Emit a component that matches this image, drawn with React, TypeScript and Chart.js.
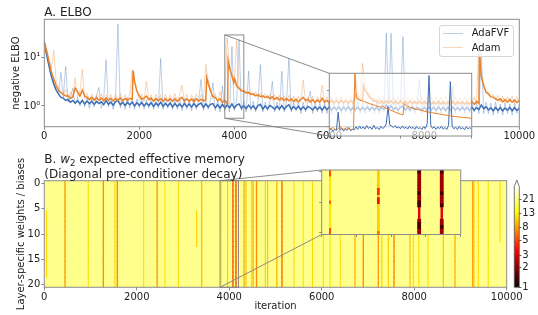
import React, { useEffect, useRef } from 'react';
import { Chart, registerables } from 'chart.js';

Chart.register(...registerables);

const FONT = "'DejaVu Sans', sans-serif";
const TEXT = '#222222';
const SPINE = '#8c8c8c';
const BLUE = 'rgb(59,110,180)';
const BLUE_FAINT = 'rgba(59,110,180,0.33)';
const ORANGE = 'rgb(234,130,42)';
const ORANGE_FAINT = 'rgba(234,130,42,0.33)';

// ---------- Panel A data ----------
const seriesNames = ['AdaFVF', 'Adam'];
const rawIter = Array.from({ length: 201 }, (_, i) => i * 50);
const blueRaw = [
  22, 12, 7, 4.5, 3.0, 2.2, 1.9, 4.9, 1.5, 6.5,
  1.2, 1.6, 2.3, 1.1, 1.5, 1.0, 1.4, 0.95, 1.5, 0.9,
  1.4, 0.95, 1.6, 2.4, 0.9, 1.4, 8.9, 0.95, 1.45, 0.85,
  1.5, 48, 0.9, 1.4, 0.85, 1.5, 0.9, 1.45, 0.85, 1.4,
  0.9, 1.5, 0.85, 1.35, 0.9, 1.5, 0.85, 1.4, 0.9, 9.4,
  0.85, 1.4, 0.9, 1.45, 0.85, 1.35, 0.85, 1.5, 0.8, 1.4,
  0.85, 1.35, 0.8, 1.45, 0.85, 1.3, 3.5, 0.8, 1.4, 0.85,
  1.3, 3.0, 0.8, 1.3, 0.75, 2.6, 0.8, 1.3, 0.75, 16.5,
  0.8, 1.25, 23, 0.8, 1.25, 0.75, 5.2, 0.8, 1.25, 0.75,
  1.3, 7.1, 0.75, 1.2, 0.8, 1.25, 3.2, 0.75, 1.2, 0.8,
  5.2, 0.75, 1.25, 9.6, 0.75, 1.2, 0.8, 1.25, 0.7, 1.2,
  0.75, 1.25, 2.0, 0.7, 1.2, 0.75, 1.15, 0.7, 1.2, 0.7,
  1.25, 0.7, 1.15, 0.75, 1.2, 0.7, 1.15, 0.75, 1.2, 0.7,
  1.15, 0.75, 1.2, 0.7, 1.15, 0.7, 1.2, 0.75, 1.15, 0.7,
  1.2, 0.7, 1.15, 0.75, 31, 0.7, 31, 0.75, 1.15, 0.7,
  1.2, 26.5, 0.7, 1.15, 0.75, 1.2, 0.7, 1.15, 3.5, 0.7,
  1.2, 0.7, 3.6, 0.75, 1.15, 0.7, 1.2, 0.7, 1.15, 0.75,
  1.2, 0.7, 2.6, 0.7, 1.15, 0.75, 1.2, 0.7, 1.15, 0.7,
  1.2, 0.75, 1.15, 0.7, 14, 0.7, 1.2, 0.7, 1.15, 0.65,
  1.2, 0.7, 1.1, 0.65, 1.15, 0.7, 1.1, 0.65, 1.15, 0.7,
  1.1,
];
const orangeRaw = [
  22, 16, 9, 6, 14, 3.2, 2.4, 2.0, 1.7, 2.2,
  1.5, 1.9, 1.45, 3.8, 1.5, 2.0, 5.6, 1.4, 1.8, 1.3,
  1.75, 1.25, 1.7, 1.3, 1.8, 1.25, 1.7, 1.3, 1.75, 1.2,
  1.7, 1.3, 1.8, 1.25, 1.7, 1.3, 1.8, 5.6, 3.0, 2.0,
  1.3, 1.75, 1.25, 3.2, 1.3, 1.7, 1.2, 1.75, 1.3, 1.7,
  1.2, 1.75, 1.25, 1.7, 1.2, 1.8, 1.25, 1.7, 2.7, 1.2,
  1.75, 1.25, 1.7, 1.2, 1.75, 1.25, 1.7, 1.3, 7.1, 3.5,
  2.2, 1.4, 1.8, 1.2, 2.0, 1.2, 1.5, 25, 7, 4,
  3.0, 22, 2.4, 2.3, 1.9, 2.1, 1.75, 2.0, 1.6, 1.95,
  1.5, 1.85, 1.45, 1.8, 1.4, 1.75, 1.3, 1.7, 1.3, 1.65,
  1.25, 1.6, 1.2, 1.65, 1.2, 1.6, 1.15, 1.6, 1.2, 3.4,
  1.15, 1.55, 1.2, 1.6, 1.15, 1.55, 1.2, 2.7, 1.15, 1.55,
  1.1, 1.55, 1.15, 1.5, 1.1, 1.55, 1.15, 1.5, 1.1, 1.55,
  1.15, 4.3, 1.8, 1.2, 7.5, 3.0, 2.0, 1.6, 1.2, 1.5,
  1.1, 1.55, 1.15, 1.5, 1.1, 1.55, 1.15, 1.5, 1.1, 1.55,
  1.15, 1.5, 1.1, 1.55, 1.15, 1.5, 1.1, 1.55, 1.15, 1.5,
  1.1, 1.55, 1.15, 1.5, 1.1, 1.55, 1.15, 1.5, 1.1, 1.55,
  1.15, 1.5, 1.1, 1.55, 1.15, 1.5, 1.1, 1.55, 1.15, 1.5,
  1.1, 1.55, 1.15, 24, 5, 2.8, 2.0, 1.9, 1.5, 1.7,
  1.3, 1.65, 1.2, 1.6, 1.15, 1.55, 1.2, 1.6, 1.15, 1.55,
  1.2,
];
const blueBoldVal = [
  20, 11, 6.5, 4.0, 2.8, 2.1, 1.75, 1.5, 1.45, 1.3,
  1.36, 1.2, 1.3, 1.14, 1.28, 1.12, 1.3, 1.1, 1.26, 1.12,
  1.25, 1.08, 1.24, 1.12, 1.22, 1.06, 1.3, 1.08, 1.2, 1.04,
  1.22, 1.3, 1.06, 1.2, 1.02, 1.18, 1.06, 1.2, 1.0, 1.17,
  1.03, 1.18, 1.0, 1.15, 1.02, 1.16, 0.98, 1.14, 1.02, 1.2,
  0.98, 1.13, 1.0, 1.15, 0.96, 1.12, 0.98, 1.1, 0.95, 1.12,
  0.97, 1.1, 0.95, 1.12, 0.96, 1.08, 1.15, 0.94, 1.1, 0.95,
  1.08, 1.12, 0.92, 1.06, 0.9, 1.08, 0.9, 1.05, 0.92, 1.1,
  0.9, 1.04, 1.1, 0.9, 1.02, 0.88, 1.04, 0.9, 1.0, 0.86,
  1.02, 1.08, 0.86, 1.0, 0.88, 1.02, 0.95, 0.86, 0.99, 0.87,
  1.02, 0.86, 0.98, 1.06, 0.85, 0.97, 0.86, 0.99, 0.84, 0.96,
  0.85, 0.98, 0.92, 0.83, 0.96, 0.85, 0.95, 0.83, 0.97, 0.84,
  0.96, 0.83, 0.94, 0.85, 0.95, 0.82, 0.94, 0.84, 0.96, 0.82,
  0.93, 0.84, 0.95, 0.82, 0.93, 0.84, 0.95, 0.82, 0.94, 0.83,
  0.95, 0.82, 0.93, 0.85, 1.05, 0.86, 1.02, 0.84, 0.93, 0.82,
  0.94, 1.0, 0.83, 0.93, 0.82, 0.95, 0.83, 0.93, 0.88, 0.82,
  0.94, 0.83, 0.96, 0.84, 0.93, 0.82, 0.95, 0.83, 0.93, 0.81,
  0.94, 0.82, 0.95, 0.83, 0.92, 0.82, 0.94, 0.82, 0.93, 0.81,
  0.94, 0.82, 0.92, 0.84, 1.05, 0.88, 0.96, 0.83, 0.92, 0.8,
  0.93, 0.81, 0.92, 0.8, 0.91, 0.82, 0.93, 0.8, 0.92, 0.81,
  0.9,
];
const orangeBoldIter = [
  0, 50, 100, 150, 200, 250, 300, 350, 400, 450,
  500, 550, 600, 650, 700, 750, 800, 850, 900, 950,
  1000, 1050, 1100, 1150, 1200, 1250, 1300, 1350, 1400, 1450,
  1500, 1550, 1600, 1650, 1700, 1750, 1800, 1850, 1870, 1900, 1950,
  2000, 2050, 2100, 2150, 2200, 2250, 2300, 2350, 2400, 2450,
  2500, 2550, 2600, 2650, 2700, 2750, 2800, 2850, 2900, 2950,
  3000, 3050, 3100, 3150, 3200, 3250, 3300, 3350, 3400, 3420, 3450,
  3500, 3550, 3600, 3650, 3700, 3750, 3800, 3850, 3860, 3870, 3900, 3950, 3990,
  4010, 4050, 4100, 4150, 4200, 4250, 4300, 4350, 4400, 4450,
  4500, 4550, 4600, 4650, 4700, 4750, 4800, 4850, 4900, 4950,
  5000, 5050, 5100, 5150, 5200, 5250, 5300, 5350, 5400, 5450,
  5500, 5550, 5600, 5650, 5700, 5750, 5800, 5850, 5900, 5950,
  6000, 6050, 6100, 6150, 6200, 6250, 6300, 6350, 6400, 6450,
  6500, 6560, 6600, 6650, 6700, 6720, 6750, 6800, 6850, 6900, 6950,
  7000, 7050, 7100, 7150, 7200, 7250, 7300, 7350, 7400, 7450,
  7500, 7550, 7600, 7650, 7700, 7750, 7800, 7850, 7900, 7950,
  8000, 8050, 8100, 8150, 8200, 8250, 8300, 8350, 8400, 8450,
  8500, 8550, 8600, 8650, 8700, 8750, 8800, 8850, 8900, 8950,
  9000, 9050, 9100, 9150, 9160, 9200, 9250, 9300, 9350, 9400, 9450,
  9500, 9550, 9600, 9650, 9700, 9750, 9800, 9850, 9900, 9950,
  10000,
];
const orangeBoldVal = [
  20, 13, 8, 5, 3.6, 2.6, 2.1, 1.85, 1.75, 1.6,
  1.62, 1.42, 1.55, 2.3, 1.95, 1.6, 2.1, 1.6, 1.5, 1.35,
  1.5, 1.32, 1.48, 1.3, 1.45, 1.28, 1.46, 1.3, 1.44, 1.27,
  1.42, 1.3, 1.46, 1.27, 1.42, 1.3, 1.44, 1.38, 5.3, 3.2, 2.0,
  1.62, 1.38, 1.45, 1.6, 1.36, 1.44, 1.26, 1.42, 1.28, 1.4,
  1.25, 1.42, 1.27, 1.4, 1.25, 1.42, 1.24, 1.38, 1.5, 1.26,
  1.4, 1.24, 1.38, 1.23, 1.4, 1.25, 1.38, 1.26, 1.36, 3.8, 2.9,
  2.0, 1.55, 1.5, 1.28, 1.4, 1.2, 1.3, 1.12, 1.2, 8.5, 6.0, 4.2, 3.0,
  3.6, 2.6, 2.3, 2.05, 2.0, 1.85, 1.9, 1.72, 1.78, 1.62,
  1.7, 1.55, 1.62, 1.48, 1.58, 1.42, 1.54, 1.38, 1.5, 1.33,
  1.46, 1.3, 1.42, 1.28, 1.4, 1.24, 1.38, 1.22, 1.36, 1.5,
  1.3, 1.36, 1.2, 1.34, 1.18, 1.32, 1.2, 1.45, 1.2, 1.3,
  1.16, 1.3, 1.15, 1.29, 1.14, 1.3, 1.15, 1.28, 1.13, 1.28,
  1.15, 1.8, 1.5, 1.3, 1.35, 2.6, 2.1, 1.8, 1.5, 1.4, 1.25,
  1.3, 1.14, 1.28, 1.12, 1.27, 1.14, 1.28, 1.12, 1.26, 1.11,
  1.27, 1.12, 1.25, 1.1, 1.26, 1.12, 1.24, 1.1, 1.25, 1.11,
  1.24, 1.1, 1.25, 1.1, 1.23, 1.09, 1.24, 1.1, 1.22, 1.09,
  1.23, 1.1, 1.24, 1.08, 1.22, 1.1, 1.23, 1.08, 1.22, 1.1,
  1.23, 1.09, 1.24, 1.12, 12, 4.0, 2.6, 1.9, 1.75, 1.55, 1.5,
  1.42, 1.3, 1.4, 1.22, 1.36, 1.2, 1.36, 1.2, 1.32, 1.18,
  1.3,
];
const topXTicks = [0, 2000, 4000, 6000, 8000, 10000];
const topYTicks = [1, 10];
const topYTickLabels = ['10\u2070', '10\u00b9'];
const topYRange = [0.376, 60];

// Panel A inset (zoom of iterations 3800-4200)
const zoomIterRange = [3800, 4200];
const zoomLossRange = [0.56, 28.7];
const insetBlueIter = Array.from({ length: 81 }, (_, i) => 3800 + i * 5);
const insetBlueVal = [
  0.78, 0.9, 0.75, 0.85, 0.8, 2.5, 0.8, 0.92, 0.76, 0.88,
  0.8, 0.95, 0.78, 0.85, 0.82, 1.0, 0.85, 1.05, 0.88, 1.0,
  0.86, 1.08, 0.9, 0.98, 0.85, 1.1, 0.88, 0.96, 0.84, 1.02,
  0.9, 0.97, 1.2, 3.5, 1.1, 1.05, 0.95, 1.08, 0.92, 1.0,
  0.88, 1.05, 0.9, 0.98, 0.86, 1.03, 0.9, 0.97, 0.85, 1.02,
  0.88, 0.95, 0.84, 1.0, 0.9, 1.2, 25, 1.1, 0.9, 1.0,
  0.85, 0.98, 0.88, 1.04, 0.86, 0.96, 0.84, 1.1, 17, 1.05,
  0.88, 0.98, 0.84, 1.02, 0.87, 0.95, 0.83, 1.0, 0.86, 0.96,
  0.85,
];
const insetOrangeIter = [3800, 3810, 3820, 3830, 3840, 3850, 3860, 3868, 3872, 3876, 3885, 3900, 3915, 3930, 3945, 3950, 3955, 3970, 3985, 4000, 4007, 4010, 4020, 4035, 4055, 4075, 4100, 4125, 4150, 4175, 4200];
const insetOrangeVal = [0.85, 0.95, 0.8, 1.0, 0.85, 0.95, 0.82, 0.9, 30, 5.9, 5.4, 4.8, 4.2, 3.8, 3.4, 3.8, 3.3, 2.9, 2.5, 2.2, 2.1, 4.3, 3.6, 3.2, 2.85, 2.55, 2.3, 2.1, 1.92, 1.8, 1.7];
const insetXTicks = [3800, 4000, 4200];
const insetYTicks = [1, 10];

// ---------- Panel B data ----------
const layerCount = 21;
const heatBaseValue = 22;
const stripeIter = [50, 448, 1276, 1529, 1580, 2440, 2610, 3296, 3404, 3824, 3963, 4080, 4145, 4320, 4360, 4490, 4520, 4590, 4780, 4830, 5030, 5140, 5600, 6034, 6179, 6719, 6899, 7223, 7300, 7440, 7563, 7909, 7980, 8100, 8629, 8882, 9265, 9290, 9386, 9855, 950, 2150, 2900, 5400, 5800, 6400, 8300, 9600];
const stripeWidth = [10, 14, 14, 10, 16, 14, 10, 10, 12, 10, 10, 16, 16, 12, 10, 10, 10, 14, 10, 10, 12, 16, 10, 10, 10, 12, 14, 14, 10, 10, 14, 10, 10, 10, 10, 12, 12, 10, 10, 10, 6, 6, 6, 6, 6, 6, 6, 6];
const stripeValue = [11, 8, 7.5, 11, 7.5, 8, 12, 10.5, 9.5, 11.5, 10.5, 5.5, 5.5, 9, 10, 9.5, 10, 7.5, 10.5, 10, 9, 6.5, 12, 11.5, 12, 9, 7.5, 8, 11, 10.5, 7, 9.5, 11.5, 11.5, 10, 9, 8, 10, 11, 11.5, 11, 11, 11, 11, 11, 11, 11, 11];
const stripeRowFrom = [6, 0, 0, 0, 0, 0, 0, 6, 0, 0, 0, 0, 0, 0, 0, 0, 0, 0, 0, 0, 0, 0, 0, 0, 0, 0, 0, 0, 0, 0, 0, 0, 0, 0, 0, 0, 0, 0, 0, 0, 0, 0, 0, 0, 0, 0, 0, 0];
const stripeRowTo = [18, 20, 20, 20, 20, 20, 20, 12, 20, 20, 20, 20, 20, 20, 20, 20, 20, 20, 20, 20, 20, 20, 20, 20, 20, 20, 20, 20, 20, 20, 20, 20, 20, 20, 20, 20, 20, 20, 20, 11, 20, 20, 20, 20, 20, 20, 20, 20];
const heatXTicks = [0, 2000, 4000, 6000, 8000, 10000];
const heatYTicks = [0, 5, 10, 15, 20];

// Panel B inset
const insetStripeStart = [3822, 3822, 3822, 3822, 3960, 3960, 3960, 3960, 4076, 4078, 4076, 4077, 4077, 4077, 4077, 4141, 4143, 4141, 4142, 4142, 4142, 4142];
const insetStripeEnd = [3826, 3826, 3826, 3826, 3966, 3966, 3966, 3966, 4085, 4083, 4085, 4084, 4084, 4084, 4084, 4150, 4148, 4150, 4149, 4149, 4149, 4149];
const insetStripeValue = [12, 5.5, 6, 5.5, 10.5, 4.5, 3.8, 6.5, 2.2, 3.2, 2.2, 1.3, 1.3, 1.3, 1.3, 2.2, 3.2, 2.2, 1.3, 1.3, 1.3, 1.3];
const insetStripeRowFrom = [0, 0, 10, 19, 0, 6, 9, 20, 0, 12, 16, 0, 7, 10, 17, 0, 12, 16, 0, 7, 11, 18];
const insetStripeRowTo = [20, 1, 10, 20, 20, 7, 10, 20, 11, 15, 20, 0, 7, 11, 18, 11, 15, 20, 0, 7, 11, 18];
const insetHeatXTicks = [3800, 3900, 4000, 4100, 4200];
const insetHeatYTicks = [0, 10, 20];

// Colorbar
const cmapRange = [1, 33];
const cbTickValues = [1, 2, 3, 5, 8, 13, 21];
const cbTickLabels = ['1', '2', '3', '5', '8', '13', '21'];

// ---------- helpers ----------
const hotRGB = (t: number) => {
  const c = Math.min(1, Math.max(0, t));
  const r = Math.min(1, 0.0416 + (c / 0.365079) * (1 - 0.0416));
  const g = Math.min(1, Math.max(0, (c - 0.365079) / (0.746032 - 0.365079)));
  const b = Math.min(1, Math.max(0, (c - 0.746032) / (1 - 0.746032)));
  return `rgb(${Math.round(r * 255)},${Math.round(g * 255)},${Math.round(b * 255)})`;
};
const hotColor = (v: number) => hotRGB(Math.log(v / cmapRange[0]) / Math.log(cmapRange[1] / cmapRange[0]));

const tickFont = { family: FONT, size: 10 };
const axisStyle = (tickLength: number, showLabels: boolean) => ({
  border: { display: false },
  grid: { display: true, drawOnChartArea: false, drawTicks: true, tickLength, color: SPINE, tickColor: SPINE },
  ticks: { display: showLabels, color: TEXT, font: tickFont, padding: 1, autoSkip: false, maxRotation: 0, minRotation: 0 },
});
const setTicks = (values: number[]) => (s: any) => {
  s.ticks = values.map((v) => ({ value: v }));
};
const fixW = (w: number) => (s: any) => {
  s.width = w;
};
const fixH = (h: number) => (s: any) => {
  s.height = h;
};

const framePlugin = (color: string, width = 1) => ({
  id: 'frame',
  afterDatasetsDraw(chart: any) {
    const { ctx, chartArea: a } = chart;
    ctx.save();
    ctx.strokeStyle = color;
    ctx.lineWidth = width;
    ctx.strokeRect(a.left, a.top, a.right - a.left, a.bottom - a.top);
    ctx.restore();
  },
});

const insetBgPlugin = {
  id: 'insetBg',
  beforeDatasetsDraw(chart: any) {
    const { ctx, chartArea: a } = chart;
    ctx.save();
    ctx.fillStyle = 'rgba(255,255,255,0.62)';
    ctx.fillRect(a.left, a.top, a.right - a.left, a.bottom - a.top);
    ctx.restore();
  },
};

// Page coordinates of the inset corners (layout)
const TOP_INSET = { left: 329.3, top: 73.3, right: 471.7, bottom: 136 };
const TOP_INSET_CANVAS = { left: 322, top: 68, w: 155, h: 75 };
const HEAT_CANVAS = { left: 0, top: 145, w: 538, h: 170 };
const HEAT_INSET = { left: 321.7, top: 170, right: 460.7, bottom: 234.5 };
const HEAT_INSET_CANVAS = { left: 315, top: 165, w: 150, h: 75 };
const CB_CANVAS = { left: 505, top: 170, w: 33, h: 125 };

const topZoomPlugin = {
  id: 'topZoom',
  afterDraw(chart: any) {
    const { ctx, scales } = chart;
    const x0 = scales.x.getPixelForValue(zoomIterRange[0]);
    const x1 = scales.x.getPixelForValue(zoomIterRange[1]);
    const y0 = scales.y.getPixelForValue(zoomLossRange[1]);
    const y1 = scales.y.getPixelForValue(zoomLossRange[0]);
    ctx.save();
    ctx.strokeStyle = 'rgba(128,128,128,0.9)';
    ctx.lineWidth = 1;
    ctx.strokeRect(x0, y0, x1 - x0, y1 - y0);
    ctx.beginPath();
    ctx.moveTo(x0, y0);
    ctx.lineTo(TOP_INSET.left, TOP_INSET.top);
    ctx.moveTo(x0, y1);
    ctx.lineTo(TOP_INSET.left, TOP_INSET.bottom);
    ctx.stroke();
    ctx.restore();
  },
};

const heatZoomPlugin = {
  id: 'heatZoom',
  afterDraw(chart: any) {
    const { ctx, scales, chartArea: a } = chart;
    const x0 = scales.x.getPixelForValue(zoomIterRange[0]);
    const x1 = scales.x.getPixelForValue(zoomIterRange[1]);
    ctx.save();
    ctx.strokeStyle = 'rgba(128,128,128,0.9)';
    ctx.lineWidth = 1;
    ctx.strokeRect(x0, a.top, x1 - x0, a.bottom - a.top);
    ctx.beginPath();
    ctx.moveTo(x0, a.top);
    ctx.lineTo(HEAT_INSET.left - HEAT_CANVAS.left, HEAT_INSET.top - HEAT_CANVAS.top);
    ctx.moveTo(x0, a.bottom);
    ctx.lineTo(HEAT_INSET.left - HEAT_CANVAS.left, HEAT_INSET.bottom - HEAT_CANVAS.top);
    ctx.stroke();
    ctx.restore();
  },
};

const cbExtendPlugin = {
  id: 'cbExtend',
  afterDatasetsDraw(chart: any) {
    const { ctx, chartArea: a } = chart;
    ctx.save();
    ctx.beginPath();
    ctx.moveTo(a.left + 0.4, a.top);
    ctx.lineTo((a.left + a.right) / 2, a.top - 6);
    ctx.lineTo(a.right - 0.4, a.top);
    ctx.closePath();
    ctx.fillStyle = hotRGB(1);
    ctx.fill();
    ctx.beginPath();
    ctx.moveTo(a.left, a.top);
    ctx.lineTo((a.left + a.right) / 2, a.top - 6.5);
    ctx.lineTo(a.right, a.top);
    ctx.lineTo(a.right, a.bottom);
    ctx.lineTo(a.left, a.bottom);
    ctx.closePath();
    ctx.strokeStyle = '#555';
    ctx.lineWidth = 0.8;
    ctx.stroke();
    ctx.restore();
  },
};

const pts = (xs: number[], ys: number[]) => xs.map((x, i) => ({ x, y: ys[i] }));

const buildCells = (
  xRange: number[],
  starts: number[],
  ends: number[],
  values: number[],
  rowFrom: number[],
  rowTo: number[],
) => {
  const data: any[] = [];
  const colors: string[] = [];
  for (let r = 0; r < layerCount; r++) {
    data.push({ x: [xRange[0], xRange[1]], y: r });
    colors.push(hotColor(heatBaseValue));
  }
  starts.forEach((s, i) => {
    for (let r = rowFrom[i]; r <= rowTo[i]; r++) {
      data.push({ x: [s, ends[i]], y: r });
      colors.push(hotColor(values[i]));
    }
  });
  return { data, colors };
};

export default function App() {
  const topRef = useRef<HTMLCanvasElement>(null);
  const topInsetRef = useRef<HTMLCanvasElement>(null);
  const heatRef = useRef<HTMLCanvasElement>(null);
  const heatInsetRef = useRef<HTMLCanvasElement>(null);
  const cbRef = useRef<HTMLCanvasElement>(null);

  useEffect(() => {
    const charts: Chart[] = [];
    const lineDs = (label: string, data: any[], color: string, width: number, order: number) => ({
      label,
      data,
      borderColor: color,
      borderWidth: width,
      pointRadius: 0,
      fill: false,
      tension: 0,
      order,
    });

    // ---- Panel A main ----
    charts.push(
      new Chart(topRef.current!, {
        type: 'line',
        data: {
          datasets: [
            lineDs(seriesNames[1] + ' (smoothed)', pts(orangeBoldIter, orangeBoldVal), ORANGE, 1.5, 0),
            lineDs(seriesNames[0] + ' (smoothed)', pts(rawIter, blueBoldVal), BLUE, 1.5, 1),
            lineDs(seriesNames[1], pts(rawIter, orangeRaw), ORANGE_FAINT, 1, 2),
            lineDs(seriesNames[0], pts(rawIter, blueRaw), BLUE_FAINT, 1, 3),
          ] as any,
        },
        options: {
          responsive: false,
          animation: false,
          events: [],
          layout: { padding: { left: 0, top: 19.3, right: 18.7, bottom: 0 } },
          plugins: { legend: { display: false }, tooltip: { enabled: false } },
          scales: {
            x: {
              type: 'linear',
              min: 0,
              max: 10000,
              ...axisStyle(3, true),
              afterBuildTicks: setTicks(topXTicks),
              afterFit: fixH(23.3),
              ticks: { ...axisStyle(3, true).ticks, callback: (v: any) => String(v) },
            },
            y: {
              type: 'logarithmic',
              min: topYRange[0],
              max: topYRange[1],
              ...axisStyle(3, true),
              afterBuildTicks: setTicks(topYTicks),
              afterFit: fixW(44.3),
              ticks: { ...axisStyle(3, true).ticks, callback: (_v: any, i: number) => topYTickLabels[i] },
              title: { display: true, text: 'negative ELBO', color: TEXT, font: tickFont, padding: { top: 10, bottom: 0 } },
            },
          } as any,
        },
        plugins: [framePlugin(SPINE), topZoomPlugin],
      }),
    );

    // ---- Panel A inset ----
    charts.push(
      new Chart(topInsetRef.current!, {
        type: 'line',
        data: {
          datasets: [
            lineDs(seriesNames[1], pts(insetOrangeIter, insetOrangeVal), ORANGE, 1, 0),
            lineDs(seriesNames[0], pts(insetBlueIter, insetBlueVal), BLUE, 1, 1),
          ] as any,
        },
        options: {
          responsive: false,
          animation: false,
          events: [],
          layout: { padding: { left: 3.3, top: 5.3, right: 5.3, bottom: 3 } },
          plugins: { legend: { display: false }, tooltip: { enabled: false } },
          scales: {
            x: {
              type: 'linear',
              min: zoomIterRange[0],
              max: zoomIterRange[1],
              ...axisStyle(2.5, false),
              afterBuildTicks: setTicks(insetXTicks),
              afterFit: fixH(4),
            },
            y: {
              type: 'logarithmic',
              min: zoomLossRange[0],
              max: zoomLossRange[1],
              ...axisStyle(2.5, false),
              afterBuildTicks: setTicks(insetYTicks),
              afterFit: fixW(4),
            },
          } as any,
        },
        plugins: [insetBgPlugin, framePlugin(SPINE)],
      }),
    );

    // ---- Panel B heatmap ----
    const main = buildCells(
      [0, 10000],
      stripeIter.map((c, i) => c - stripeWidth[i] / 2),
      stripeIter.map((c, i) => c + stripeWidth[i] / 2),
      stripeValue,
      stripeRowFrom,
      stripeRowTo,
    );
    charts.push(
      new Chart(heatRef.current!, {
        type: 'bar',
        data: {
          datasets: [
            {
              label: 'memory',
              data: main.data,
              backgroundColor: main.colors,
              borderWidth: 0,
              barPercentage: 1,
              categoryPercentage: 1,
              grouped: false,
            },
          ] as any,
        },
        options: {
          indexAxis: 'y',
          responsive: false,
          animation: false,
          events: [],
          layout: { padding: { left: 0, top: 35.7, right: 31.3, bottom: 0 } },
          plugins: { legend: { display: false }, tooltip: { enabled: false } },
          scales: {
            x: {
              type: 'linear',
              min: 0,
              max: 10000,
              offset: false,
              ...axisStyle(3, true),
              afterBuildTicks: setTicks(heatXTicks),
              afterFit: fixH(27.7),
              ticks: { ...axisStyle(3, true).ticks, callback: (v: any) => String(v) },
              title: { display: true, text: 'iteration', color: TEXT, font: tickFont, padding: { top: 0, bottom: 2.3 } },
            },
            y: {
              type: 'linear',
              min: -0.5,
              max: 20.5,
              reverse: true,
              offset: false,
              ...axisStyle(3, true),
              grid: { ...axisStyle(3, true).grid, offset: false },
              afterBuildTicks: setTicks(heatYTicks),
              afterFit: fixW(44.3),
              ticks: { ...axisStyle(3, true).ticks, callback: (v: any) => String(v) },
              title: { display: true, text: 'Layer-specific weights / biases', color: TEXT, font: tickFont, padding: { top: 15, bottom: 0 } },
            },
          } as any,
        },
        plugins: [framePlugin(SPINE), heatZoomPlugin],
      }),
    );

    // ---- Panel B inset ----
    const inset = buildCells(zoomIterRange, insetStripeStart, insetStripeEnd, insetStripeValue, insetStripeRowFrom, insetStripeRowTo);
    charts.push(
      new Chart(heatInsetRef.current!, {
        type: 'bar',
        data: {
          datasets: [
            {
              label: 'memory zoom',
              data: inset.data,
              backgroundColor: inset.colors,
              borderWidth: 0,
              barPercentage: 1,
              categoryPercentage: 1,
              grouped: false,
            },
          ] as any,
        },
        options: {
          indexAxis: 'y',
          responsive: false,
          animation: false,
          events: [],
          layout: { padding: { left: 2.7, top: 5, right: 4.3, bottom: 1.5 } },
          plugins: { legend: { display: false }, tooltip: { enabled: false } },
          scales: {
            x: {
              type: 'linear',
              min: zoomIterRange[0],
              max: zoomIterRange[1],
              offset: false,
              ...axisStyle(2.5, false),
              afterBuildTicks: setTicks(insetHeatXTicks),
              afterFit: fixH(4),
            },
            y: {
              type: 'linear',
              min: -0.5,
              max: 20.5,
              reverse: true,
              offset: false,
              ...axisStyle(2.5, false),
              grid: { ...axisStyle(2.5, false).grid, offset: false },
              afterBuildTicks: setTicks(insetHeatYTicks),
              afterFit: fixW(4),
            },
          } as any,
        },
        plugins: [framePlugin(SPINE)],
      }),
    );

    // ---- Colorbar ----
    charts.push(
      new Chart(cbRef.current!, {
        type: 'bar',
        data: {
          labels: ['cb'],
          datasets: [
            {
              label: 'colorbar',
              data: [[cmapRange[0], cmapRange[1]]],
              borderWidth: 0,
              barPercentage: 1,
              categoryPercentage: 1,
              backgroundColor: (c: any) => {
                const a = c.chart.chartArea;
                if (!a) return hotColor(heatBaseValue);
                const g = c.chart.ctx.createLinearGradient(0, a.bottom, 0, a.top);
                for (let i = 0; i <= 40; i++) g.addColorStop(i / 40, hotRGB(i / 40));
                return g;
              },
            },
          ] as any,
        },
        options: {
          responsive: false,
          animation: false,
          events: [],
          layout: { padding: { left: 9.3, top: 16.5, right: 0, bottom: 7.7 } },
          plugins: { legend: { display: false }, tooltip: { enabled: false } },
          scales: {
            x: { display: false },
            y: {
              type: 'logarithmic',
              position: 'right',
              min: cmapRange[0],
              max: cmapRange[1],
              ...axisStyle(2, true),
              grid: { ...axisStyle(2, true).grid, color: '#555', tickColor: '#555' },
              afterBuildTicks: setTicks(cbTickValues),
              afterFit: fixW(18.7),
              ticks: { ...axisStyle(2, true).ticks, callback: (_v: any, i: number) => cbTickLabels[i] },
            },
          } as any,
        },
        plugins: [cbExtendPlugin],
      }),
    );

    return () => charts.forEach((c) => c.destroy());
  }, []);

  const abs = (left: number, top: number): React.CSSProperties => ({ position: 'absolute', left, top });

  return (
    <div
      style={{
        position: 'fixed',
        left: 0,
        top: 0,
        width: 538,
        height: 315,
        background: '#ffffff',
        overflow: 'hidden',
        fontFamily: FONT,
        color: TEXT,
      }}
    >
      <canvas ref={topRef} width={538} height={150} style={abs(0, 0)} />
      <canvas ref={topInsetRef} width={TOP_INSET_CANVAS.w} height={TOP_INSET_CANVAS.h} style={abs(TOP_INSET_CANVAS.left, TOP_INSET_CANVAS.top)} />
      <div style={{ ...abs(44.3, 5.3), fontSize: 12, lineHeight: '14px', whiteSpace: 'nowrap' }}>A. ELBO</div>
      <div
        style={{
          ...abs(439.3, 25),
          width: 74.7,
          height: 32.3,
          boxSizing: 'border-box',
          border: '1px solid #d6d6d6',
          borderRadius: 3,
          background: 'rgba(255,255,255,0.8)',
        }}
      >
        <div style={{ ...abs(2.7, 7), width: 20, height: 1, background: BLUE_FAINT }} />
        <div style={{ ...abs(31.4, 1.3), fontSize: 10, lineHeight: '12px', whiteSpace: 'nowrap' }}>{seriesNames[0]}</div>
        <div style={{ ...abs(2.7, 21.4), width: 20, height: 1, background: ORANGE_FAINT }} />
        <div style={{ ...abs(31.4, 15.7), fontSize: 10, lineHeight: '12px', whiteSpace: 'nowrap' }}>{seriesNames[1]}</div>
      </div>
      <canvas ref={heatRef} width={HEAT_CANVAS.w} height={HEAT_CANVAS.h} style={abs(HEAT_CANVAS.left, HEAT_CANVAS.top)} />
      <canvas ref={heatInsetRef} width={HEAT_INSET_CANVAS.w} height={HEAT_INSET_CANVAS.h} style={abs(HEAT_INSET_CANVAS.left, HEAT_INSET_CANVAS.top)} />
      <canvas ref={cbRef} width={CB_CANVAS.w} height={CB_CANVAS.h} style={abs(CB_CANVAS.left, CB_CANVAS.top)} />
      <div style={{ ...abs(44.3, 152), fontSize: 12, lineHeight: '14.7px', whiteSpace: 'nowrap' }}>
        <div>
          B. <i>w</i>
          <sub style={{ fontSize: 8.5, lineHeight: 0, verticalAlign: -2.5 }}>2</sub> expected effective memory
        </div>
        <div>(Diagonal pre-conditioner decay)</div>
      </div>
    </div>
  );
}
